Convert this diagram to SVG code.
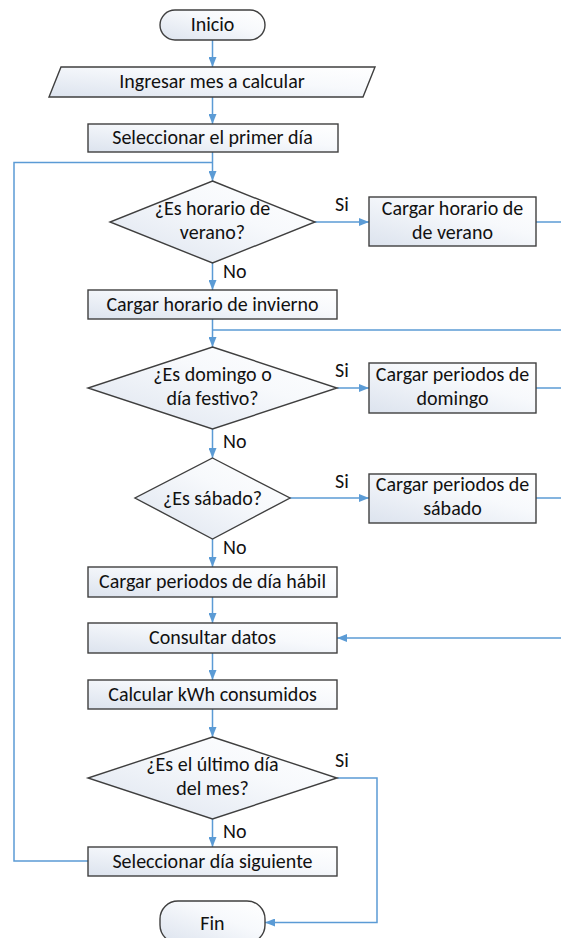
<svg xmlns="http://www.w3.org/2000/svg" width="561" height="938" viewBox="0 0 561 938">
<style>
.n{fill:url(#g);stroke:#3f3f3f;stroke-width:1.4}
.t{font-family:Carlito,Calibri,Lato,"Liberation Sans",sans-serif;font-size:20px;fill:#111;text-anchor:middle}
.l{font-family:Carlito,Calibri,Lato,"Liberation Sans",sans-serif;font-size:20px;fill:#111}
.c{fill:none;stroke:#5b9bd5;stroke-width:1.5}
.a{marker-end:url(#ah)}
</style>
<defs>
<linearGradient id="g" x1="0" y1="1" x2="1" y2="0">
<stop offset="0" stop-color="#dce3ee"/>
<stop offset="0.6" stop-color="#f7f9fc"/>
<stop offset="1" stop-color="#ffffff"/>
</linearGradient>
<marker id="ah" markerUnits="userSpaceOnUse" markerWidth="10" markerHeight="8" refX="10" refY="4" orient="auto">
<path d="M0,0 L10,4 L0,8 z" fill="#5b9bd5"/>
</marker>
</defs>
<g id="connectors">
<path class="c a" d="M212.5,40 V67"/>
<path class="c a" d="M212.5,97 V124"/>
<path class="c a" d="M212.5,152 V181"/>
<path class="c" d="M88,861 H14 V162.5 H212.5"/>
<path class="c a" d="M315,222 H369"/>
<path class="c" d="M536,222 H561"/>
<path class="c a" d="M212.5,263 V290"/>
<path class="c a" d="M212.5,319 V347"/>
<path class="c" d="M212.5,330 H561"/>
<path class="c a" d="M337,388 H369"/>
<path class="c" d="M536,388 H561"/>
<path class="c a" d="M212.5,429 V458"/>
<path class="c a" d="M290,498 H369"/>
<path class="c" d="M536,498 H561"/>
<path class="c a" d="M212.5,539 V567"/>
<path class="c a" d="M212.5,597 V623"/>
<path class="c a" d="M561,638 H337"/>
<path class="c a" d="M212.5,653 V680"/>
<path class="c a" d="M212.5,709 V737"/>
<path class="c a" d="M337,778 H377 V922.5 H265"/>
<path class="c a" d="M212.5,819 V847"/>
<text class="l" x="335" y="211">Si</text>
<text class="l" x="335" y="377">Si</text>
<text class="l" x="335" y="488">Si</text>
<text class="l" x="335" y="767">Si</text>
<text class="l" x="223" y="278">No</text>
<text class="l" x="223" y="448">No</text>
<text class="l" x="223" y="554">No</text>
<text class="l" x="223" y="838">No</text>
</g>
<g id="inicio">
<rect class="n" x="160" y="10" width="105" height="30" rx="15"/>
<text class="t" x="212.5" y="31">Inicio</text>
</g>
<g id="ingresar">
<polygon class="n" points="61,67 375,67 363,97 49,97"/>
<text class="t" x="212" y="88">Ingresar mes a calcular</text>
</g>
<g id="primer-dia">
<rect class="n" x="88" y="124" width="250" height="28"/>
<text class="t" x="212.5" y="144">Seleccionar el primer día</text>
</g>
<g id="verano-q">
<polygon class="n" points="212.5,181 315,222 212.5,263 110,222"/>
<text class="t" x="212.5" y="215">¿Es horario de</text>
<text class="t" x="212.5" y="239">verano?</text>
</g>
<g id="cargar-verano">
<rect class="n" x="369" y="197" width="167" height="49"/>
<text class="t" x="452.5" y="215">Cargar horario de</text>
<text class="t" x="452.5" y="239">de verano</text>
</g>
<g id="cargar-invierno">
<rect class="n" x="88" y="290" width="249" height="29"/>
<text class="t" x="212.5" y="311">Cargar horario de invierno</text>
</g>
<g id="domingo-q">
<polygon class="n" points="212.5,347 337,388 212.5,429 88,388"/>
<text class="t" x="212.5" y="381">¿Es domingo o</text>
<text class="t" x="212.5" y="405">día festivo?</text>
</g>
<g id="cargar-domingo">
<rect class="n" x="369" y="363" width="167" height="50"/>
<text class="t" x="452.5" y="381">Cargar periodos de</text>
<text class="t" x="452.5" y="405">domingo</text>
</g>
<g id="sabado-q">
<polygon class="n" points="212.5,458 290,498 212.5,539 135,498"/>
<text class="t" x="212.5" y="505">¿Es sábado?</text>
</g>
<g id="cargar-sabado">
<rect class="n" x="369" y="474" width="167" height="49"/>
<text class="t" x="452.5" y="491">Cargar periodos de</text>
<text class="t" x="452.5" y="515">sábado</text>
</g>
<g id="cargar-habil">
<rect class="n" x="88" y="567" width="249" height="30"/>
<text class="t" x="212.5" y="588">Cargar periodos de día hábil</text>
</g>
<g id="consultar">
<rect class="n" x="88" y="623" width="249" height="30"/>
<text class="t" x="212.5" y="644">Consultar datos</text>
</g>
<g id="calcular">
<rect class="n" x="88" y="680" width="249" height="29"/>
<text class="t" x="212.5" y="701">Calcular kWh consumidos</text>
</g>
<g id="ultimo-q">
<polygon class="n" points="212.5,737 337,778 212.5,819 88,778"/>
<text class="t" x="212.5" y="771">¿Es el último día</text>
<text class="t" x="212.5" y="795">del mes?</text>
</g>
<g id="siguiente">
<rect class="n" x="88" y="847" width="249" height="29"/>
<text class="t" x="212.5" y="868">Seleccionar día siguiente</text>
</g>
<g id="fin">
<rect class="n" x="160" y="901" width="105" height="42" rx="18"/>
<text class="t" x="212.5" y="930">Fin</text>
</g>
</svg>
